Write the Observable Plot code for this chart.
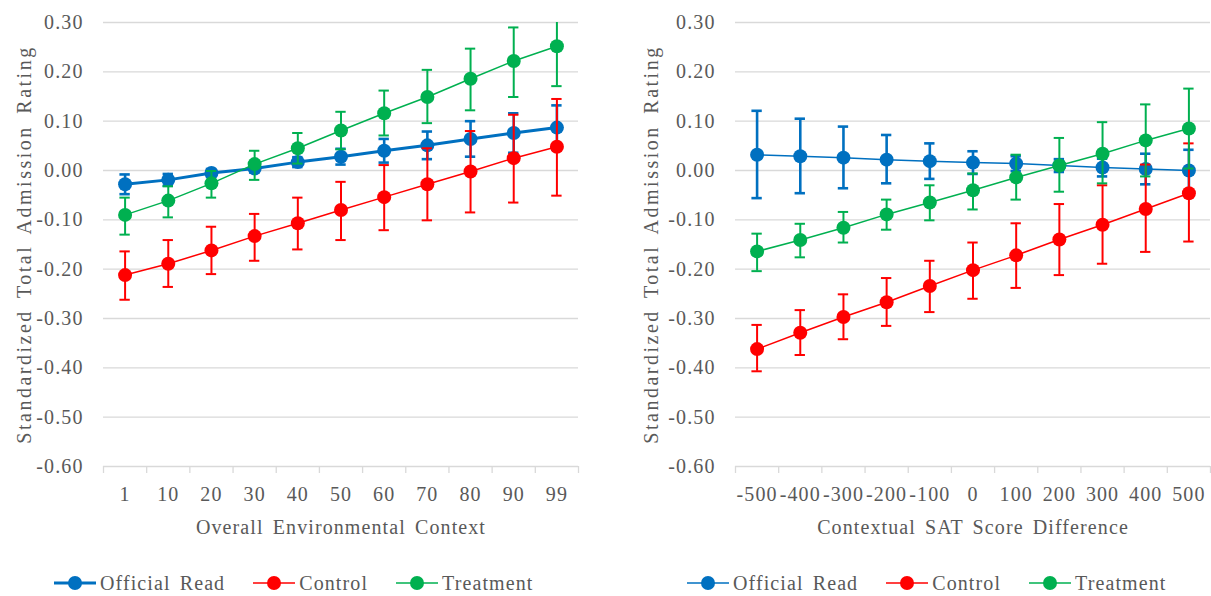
<!DOCTYPE html>
<html>
<head>
<meta charset="utf-8">
<script src="https://cdn.jsdelivr.net/npm/d3@7"></script>
<script src="https://cdn.jsdelivr.net/npm/@observablehq/plot@0.6"></script>
<style>
  body { margin: 0; background: #fff; }
  #root { position: relative; width: 1211px; height: 596px; font-family: "Liberation Serif", "Times New Roman", Tinos, "DejaVu Serif", serif; color: #595959; letter-spacing: 1.1px; word-spacing: 3px; }
  .panel { position: absolute; top: 0; }
  .legend { position: absolute; top: 571px; display: flex; align-items: center; gap: 28px; font-size: 20px; line-height: 24px; }
  .item { display: flex; align-items: center; gap: 4px; }
  svg text { font-family: "Liberation Serif", "Times New Roman", Tinos, "DejaVu Serif", serif; }
</style>
</head>
<body>
<div id="root">
  <div id="left" class="panel" style="left:0px"></div>
  <div id="right" class="panel" style="left:605px"></div>
  <div id="legendLeft" class="legend" style="left:54px"></div>
  <div id="legendRight" class="legend" style="left:687px"></div>
</div>
<script>
// ---- Data ----
const seriesNames = ["Official Read", "Control", "Treatment"];
const seriesColors = ["#0070C0", "#FF0000", "#00B050"];
const yTicks = [-0.6, -0.5, -0.4, -0.3, -0.2, -0.1, 0, 0.1, 0.2, 0.3];
const yTitle = "Standardized Total Admission Rating";

// Left panel: Overall Environmental Context
const envCategories = ["1", "10", "20", "30", "40", "50", "60", "70", "80", "90", "99"];
const envTitle = "Overall Environmental Context";
const envOfficial   = [-0.028, -0.019, -0.005, 0.004, 0.017, 0.028, 0.040, 0.051, 0.064, 0.076, 0.087];
const envOfficialLo = [-0.048, -0.031, -0.013, -0.004, 0.007, 0.012, 0.016, 0.023, 0.028, 0.036, 0.042];
const envOfficialHi = [-0.008, -0.007, 0.003, 0.012, 0.027, 0.044, 0.064, 0.079, 0.100, 0.116, 0.132];
const envControl    = [-0.212, -0.189, -0.162, -0.133, -0.107, -0.080, -0.054, -0.028, -0.002, 0.025, 0.048];
const envControlLo  = [-0.262, -0.236, -0.210, -0.183, -0.160, -0.141, -0.121, -0.101, -0.085, -0.065, -0.051];
const envControlHi  = [-0.164, -0.141, -0.114, -0.088, -0.055, -0.023, 0.011, 0.045, 0.080, 0.113, 0.145];
const envTreatment   = [-0.090, -0.061, -0.026, 0.013, 0.045, 0.081, 0.116, 0.149, 0.186, 0.222, 0.252];
const envTreatmentLo = [-0.130, -0.095, -0.055, -0.019, 0.014, 0.043, 0.071, 0.096, 0.122, 0.149, 0.171];
const envTreatmentHi = [-0.055, -0.032, -0.001, 0.040, 0.076, 0.119, 0.162, 0.204, 0.247, 0.290, 0.333];

// Right panel: Contextual SAT Score Difference
const satCategories = ["-500", "-400", "-300", "-200", "-100", "0", "100", "200", "300", "400", "500"];
const satTitle = "Contextual SAT Score Difference";
const satOfficial   = [0.032, 0.029, 0.026, 0.022, 0.019, 0.016, 0.014, 0.010, 0.006, 0.003, 0.000];
const satOfficialLo = [-0.056, -0.046, -0.036, -0.026, -0.017, -0.007, -0.001, -0.003, -0.012, -0.028, -0.042];
const satOfficialHi = [0.121, 0.105, 0.089, 0.072, 0.055, 0.039, 0.029, 0.023, 0.024, 0.034, 0.042];
const satControl    = [-0.362, -0.329, -0.297, -0.267, -0.234, -0.202, -0.172, -0.140, -0.110, -0.078, -0.046];
const satControlLo  = [-0.407, -0.374, -0.342, -0.315, -0.287, -0.260, -0.238, -0.212, -0.189, -0.165, -0.144];
const satControlHi  = [-0.313, -0.283, -0.251, -0.218, -0.183, -0.146, -0.107, -0.068, -0.030, 0.012, 0.055];
const satTreatment   = [-0.164, -0.141, -0.116, -0.089, -0.065, -0.040, -0.014, 0.010, 0.034, 0.061, 0.085];
const satTreatmentLo = [-0.204, -0.176, -0.146, -0.120, -0.101, -0.079, -0.059, -0.043, -0.026, -0.012, 0.004];
const satTreatmentHi = [-0.128, -0.108, -0.084, -0.059, -0.030, -0.006, 0.032, 0.066, 0.098, 0.134, 0.166];

// ---- Drawing ----
const FONT = "'Liberation Serif', 'Times New Roman', Tinos, 'DejaVu Serif', serif";

function seriesMarks(cats, mean, lo, hi, color, lineWidth, barWidth) {
  const rows = cats.map((c, i) => ({i, v: mean[i], lo: lo[i], hi: hi[i]}));
  const cap = 0.12;
  return [
    Plot.line(rows, {x: "i", y: "v", stroke: color, strokeWidth: lineWidth}),
    Plot.ruleX(rows, {x: "i", y1: "lo", y2: "hi", stroke: color, strokeWidth: barWidth, clip: true}),
    Plot.ruleY(rows, {y: "hi", x1: d => d.i - cap, x2: d => d.i + cap, stroke: color, strokeWidth: barWidth, clip: true}),
    Plot.ruleY(rows, {y: "lo", x1: d => d.i - cap, x2: d => d.i + cap, stroke: color, strokeWidth: barWidth, clip: true}),
    Plot.dot(rows, {x: "i", y: "v", r: 7, fill: color, stroke: "none"})
  ];
}

function panel({cats, xTitle, series, width, marginLeft, marginRight, yTitleDx, blueWidth}) {
  const n = cats.length;
  const boundaries = d3.range(n + 1).map(i => i - 0.5);
  const marks = [
    Plot.gridY(yTicks, {stroke: "#d9d9d9", strokeOpacity: 1, strokeWidth: 1.3}),
    Plot.axisX(boundaries, {tickSize: 7, tickFormat: () => "", stroke: "#d9d9d9", strokeOpacity: 1, strokeWidth: 1.3, label: null}),
    Plot.axisX(d3.range(n), {tickSize: 0, tickPadding: 20, tickFormat: i => cats[i], color: "#595959", label: null}),
    Plot.axisY(yTicks, {tickSize: 0, tickPadding: 20, tickFormat: d => d.toFixed(2), color: "#595959", label: null}),
    Plot.text([yTitle], {text: d => d, frameAnchor: "left", dx: yTitleDx, rotate: -90, textAnchor: "middle", lineAnchor: "middle", fill: "#595959", fontSize: 20}),
    Plot.text([xTitle], {text: d => d, frameAnchor: "bottom", dy: 61, textAnchor: "middle", lineAnchor: "middle", fill: "#595959", fontSize: 20})
  ];
  series.forEach((s, k) => {
    marks.push(...seriesMarks(cats, s.mean, s.lo, s.hi, seriesColors[k], k === 0 ? blueWidth : 1.5, k === 0 ? 2.6 : 2));
  });
  const svg = Plot.plot({
    width, height: 550,
    marginTop: 22, marginBottom: 84, marginLeft, marginRight,
    x: {type: "linear", domain: [-0.5, n - 0.5], label: null},
    y: {domain: [-0.6, 0.3], label: null},
    style: {fontFamily: FONT, fontSize: "20px", color: "#595959", background: "transparent", overflow: "visible", letterSpacing: "1.1px", wordSpacing: "3px"},
    marks
  });
  // widen the rotated y-axis title's letter spacing to match the reference
  d3.select(svg).selectAll("text").filter(function() { return this.textContent === yTitle; })
    .style("letter-spacing", "2.5px").style("word-spacing", "4px");
  return svg;
}

document.getElementById("left").appendChild(panel({
  cats: envCategories, xTitle: envTitle, width: 605, marginLeft: 103, marginRight: 27, yTitleDx: -79, blueWidth: 3,
  series: [
    {mean: envOfficial, lo: envOfficialLo, hi: envOfficialHi},
    {mean: envControl, lo: envControlLo, hi: envControlHi},
    {mean: envTreatment, lo: envTreatmentLo, hi: envTreatmentHi}
  ]
}));

document.getElementById("right").appendChild(panel({
  cats: satCategories, xTitle: satTitle, width: 606, marginLeft: 130, marginRight: 1, yTitleDx: -84, blueWidth: 1.5,
  series: [
    {mean: satOfficial, lo: satOfficialLo, hi: satOfficialHi},
    {mean: satControl, lo: satControlLo, hi: satControlHi},
    {mean: satTreatment, lo: satTreatmentLo, hi: satTreatmentHi}
  ]
}));

function legend(el, blueWidth) {
  seriesNames.forEach((name, k) => {
    const item = document.createElement("div");
    item.className = "item";
    const sw = k === 0 ? blueWidth : 1.5;
    item.innerHTML = `<svg width="42" height="16"><line x1="0" x2="42" y1="8" y2="8" stroke="${seriesColors[k]}" stroke-width="${sw}"/><circle cx="21" cy="8" r="7" fill="${seriesColors[k]}"/></svg><span>${name}</span>`;
    el.appendChild(item);
  });
}
legend(document.getElementById("legendLeft"), 3);
legend(document.getElementById("legendRight"), 1.5);
</script>
</body>
</html>
